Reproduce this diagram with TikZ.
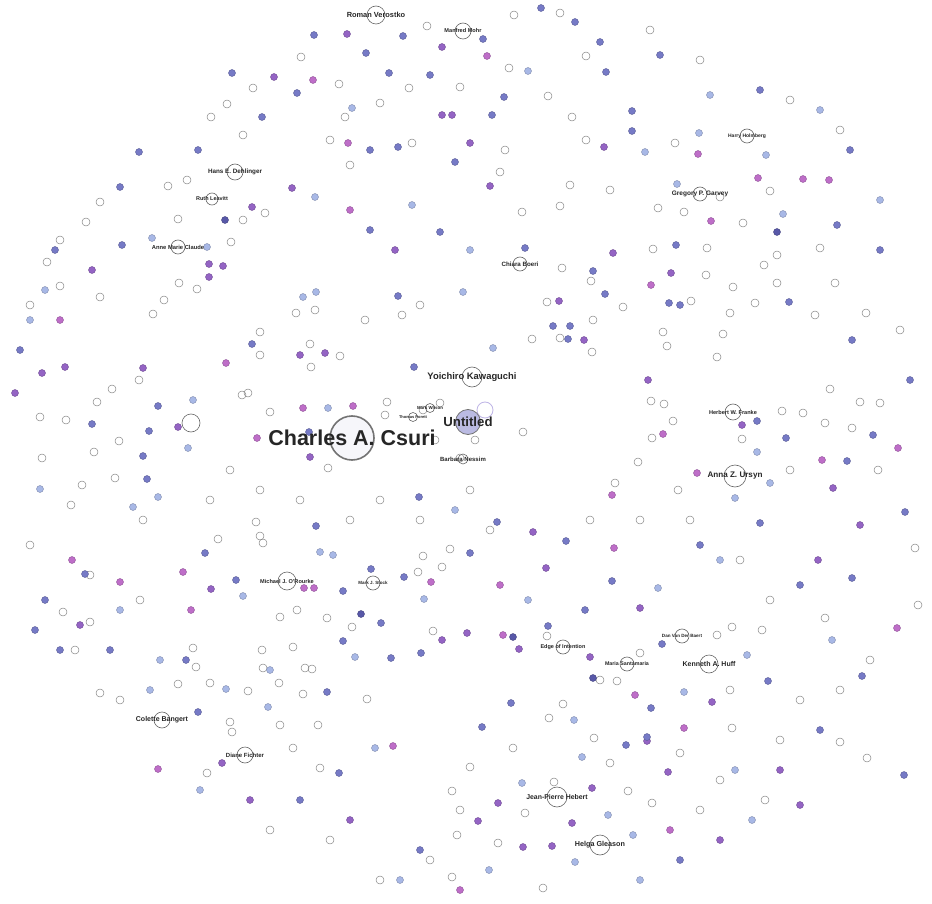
\documentclass[tikz,border=0pt]{standalone}
\usepackage{fontspec}
\setmainfont{Liberation Sans}
\definecolor{cB}{RGB}{118,122,198}
\definecolor{cD}{RGB}{88,88,168}
\definecolor{cP}{RGB}{148,100,196}
\definecolor{cM}{RGB}{190,110,200}
\definecolor{cL}{RGB}{168,184,230}
\definecolor{untfill}{RGB}{186,186,226}
\begin{document}
\begin{tikzpicture}[x=1pt,y=-1pt,
  dotn/.style={circle,inner sep=0pt,minimum size=7pt,line width=0.4pt},
  ring/.style={circle,draw=black!50,line width=0.45pt,inner sep=0pt,minimum size=8pt},
  hub/.style={circle,draw=black!60,line width=0.6pt,inner sep=0pt},
  lbl/.style={inner sep=0pt,text=black!85,font=\bfseries}]
\fill[white] (0,0) rectangle (932,904);
\useasboundingbox (0,0) rectangle (932,904);

% small open circles
\foreach \x/\y [count=\i] in {427/26,514/15,560/13,301/57,509/68,339/84,409/88,460/87,253/88,586/56,548/96,380/103,345/117,227/104,211/117,243/135,572/117,330/140,412/143,505/150,586/140,675/143,168/186,187/180,100/202,350/165,500/172,570/185,610/190,522/212,560/206,770/191,658/208,684/212,720/197,743/223,178/219,243/220,265/213,231/242,86/222,820/248,764/265,707/248,777/255,706/275,733/287,777/283,835/283,691/301,755/303,730/313,815/315,866/313,179/283,197/289,164/300,296/313,315/310,153/314,562/268,653/249,591/281,547/302,623/307,593/320,532/339,560/338,592/352,663/332,667/346,723/334,717/357,260/332,260/355,340/356,311/367,310/344,420/305,365/320,402/315,100/297,30/305,47/262,60/286,
139/380,112/389,97/402,40/417,66/420,119/441,94/452,42/458,115/478,82/485,71/505,143/520,248/393,270/412,387/402,385/415,423/410,440/403,523/432,435/440,475/440,460/458,328/468,242/395,
651/401,664/404,673/421,782/411,803/413,825/423,852/428,830/389,860/402,652/438,742/439,638/462,790/470,878/470,615/483,678/490,
218/539,260/536,263/543,450/549,423/556,442/567,418/572,297/610,280/617,327/618,352/627,433/631,262/650,293/647,193/648,196/667,263/668,305/668,256/522,210/683,178/684,248/691,312/669,279/683,303/694,367/699,230/722,232/732,293/748,280/725,318/725,320/768,207/773,
513/748,680/753,470/767,610/763,554/782,628/791,652/803,452/791,460/810,525/813,457/835,498/843,452/877,543/888,
547/636,732/627,762/630,717/635,640/653,730/690,600/680,617/681,563/704,549/718,594/738,732/728,
30/545,90/575,63/612,90/622,140/600,75/650,100/693,120/700,915/548,918/605,825/618,870/660,840/742,867/758,765/800,900/330,880/403,840/130,790/100,700/60,650/30,60/240,380/880,330/840,270/830,430/860,700/810,720/780,780/740,800/700,840/690,770/600,740/560,690/520,640/520,590/520,470/490,490/530,420/520,380/500,350/520,300/500,260/490,230/470,210/500}
  {\node[ring] (r\i) at (\x,\y) {};}

% coloured dots
\foreach \x/\y/\c [count=\i] in {541/8/cB,314/35/cB,347/34/cP,403/36/cB,366/53/cB,442/47/cP,483/39/cB,487/56/cM,528/71/cL,389/73/cB,430/75/cB,313/80/cM,504/97/cB,352/108/cL,442/115/cP,452/115/cP,492/115/cB,232/73/cB,274/77/cP,297/93/cB,262/117/cB,606/72/cB,632/111/cB,600/42/cB,139/152/cB,198/150/cB,120/187/cB,370/150/cB,398/147/cB,470/143/cP,348/143/cM,604/147/cP,632/131/cB,645/152/cL,698/154/cM,699/133/cL,766/155/cL,758/178/cM,803/179/cM,829/180/cM,677/184/cL,783/214/cL,711/221/cM,777/232/cD,837/225/cB,292/188/cP,315/197/cL,252/207/cP,225/220/cD,152/238/cL,207/247/cL,209/264/cP,223/266/cP,209/277/cP,303/297/cL,316/292/cL,525/248/cB,593/271/cB,613/253/cP,676/245/cB,671/273/cP,651/285/cM,605/294/cB,559/301/cP,669/303/cB,680/305/cB,789/302/cB,553/326/cB,570/326/cB,568/339/cB,584/340/cP,493/348/cL,252/344/cB,300/355/cP,325/353/cP,414/367/cB,
65/367/cP,42/373/cP,143/368/cP,226/363/cM,15/393/cP,158/406/cB,193/400/cL,92/424/cB,149/431/cB,178/427/cP,143/456/cB,188/448/cL,147/479/cB,40/489/cL,158/497/cL,133/507/cL,
303/408/cM,328/408/cL,353/406/cM,309/432/cB,257/438/cM,310/457/cP,
648/380/cP,663/434/cM,742/425/cP,757/421/cB,786/438/cB,757/452/cL,898/448/cM,822/460/cM,847/461/cB,697/473/cM,770/483/cL,833/488/cP,612/495/cM,735/498/cL,
316/526/cB,205/553/cB,320/552/cL,333/555/cL,183/572/cM,236/580/cB,211/589/cP,243/596/cL,304/588/cM,314/588/cM,343/591/cB,371/569/cB,404/577/cB,431/582/cM,424/599/cL,191/610/cM,361/614/cD,381/623/cB,343/641/cB,467/633/cP,442/640/cP,421/653/cB,391/658/cB,355/657/cL,186/660/cB,
270/670/cL,226/689/cL,198/712/cB,268/707/cL,327/692/cB,375/748/cL,393/746/cM,222/763/cP,158/769/cM,339/773/cB,
626/745/cB,647/741/cP,582/757/cL,668/772/cP,522/783/cL,592/788/cP,498/803/cP,478/821/cP,608/815/cL,572/823/cP,670/830/cM,633/835/cL,523/847/cP,552/846/cP,575/862/cL,489/870/cL,
503/635/cM,513/637/cD,519/649/cP,548/626/cB,662/644/cB,590/657/cP,593/678/cD,747/655/cL,768/681/cB,684/692/cL,712/702/cP,635/695/cM,651/708/cB,511/703/cB,574/720/cL,482/727/cB,684/728/cM,647/737/cB,
72/560/cM,85/574/cB,120/582/cM,45/600/cB,35/630/cB,120/610/cL,150/690/cL,160/660/cL,60/320/cM,92/270/cP,122/245/cB,45/290/cL,80/625/cP,60/650/cB,110/650/cB,
880/250/cB,852/340/cB,910/380/cB,873/435/cB,905/512/cB,852/578/cB,897/628/cM,832/640/cL,862/676/cB,820/730/cB,904/775/cB,800/805/cP,752/820/cL,818/560/cP,800/585/cB,760/523/cB,860/525/cP,720/560/cL,700/545/cB,780/770/cP,735/770/cL,
575/22/cB,660/55/cB,710/95/cL,760/90/cB,820/110/cL,850/150/cB,880/200/cL,55/250/cB,30/320/cL,20/350/cB,
300/800/cB,350/820/cP,420/850/cB,400/880/cL,460/890/cM,250/800/cP,200/790/cL,680/860/cB,720/840/cP,640/880/cL,
419/497/cB,455/510/cL,497/522/cB,533/532/cP,566/541/cB,614/548/cM,546/568/cP,612/581/cB,658/588/cL,470/553/cB,500/585/cM,528/600/cL,585/610/cB,640/608/cP,
455/162/cB,490/186/cP,412/205/cL,440/232/cB,395/250/cP,470/250/cL,370/230/cB,350/210/cM,398/296/cB,463/292/cL}
  {\node[dotn,fill=\c,draw=\c!75!black] (d\i) at (\x,\y) {};}

% named hubs
\node[hub,minimum size=18pt] (roman) at (376,15) {};
\node[hub,minimum size=16pt] (mohr) at (463,31) {};
\node[hub,minimum size=16pt] (dehl) at (235,172) {};
\node[hub,minimum size=12pt] (ruth) at (212,199) {};
\node[hub,minimum size=14pt] (anne) at (178,247) {};
\node[hub,minimum size=14pt] (harry) at (747,136) {};
\node[hub,minimum size=14pt] (garvey) at (700,194) {};
\node[hub,minimum size=14pt] (chiara) at (520,264) {};
\node[hub,minimum size=18pt] (migo) at (191,423) {};
\node[hub,minimum size=20pt] (yoichiro) at (472,377) {};
\node[circle,draw={rgb,255:red,190;green,180;blue,230},line width=0.8pt,minimum size=16pt,inner sep=0pt] (halo) at (485,410) {};
\node[circle,fill=untfill,draw=black!55,line width=0.8pt,minimum size=25pt,inner sep=0pt] (untitled) at (468,422) {};
\node[circle,fill={rgb,255:red,246;green,246;blue,250},draw=black!55,line width=1.6pt,minimum size=44pt,inner sep=0pt] (csuri) at (352,438) {};
\node[hub,minimum size=16pt] (franke) at (733,412) {};
\node[hub,minimum size=22pt] (ursyn) at (735,476) {};
\node[hub,minimum size=9pt] (porett) at (413,417) {};
\node[hub,minimum size=9pt] (wilson) at (430,408) {};
\node[hub,minimum size=10pt] (nessim) at (463,459) {};
\node[hub,minimum size=18pt] (orourke) at (287,581) {};
\node[hub,minimum size=14pt] (stock) at (373,583) {};
\node[hub,minimum size=14pt] (edge) at (563,647) {};
\node[hub,minimum size=14pt] (dan) at (682,636) {};
\node[hub,minimum size=14pt] (maria) at (627,664) {};
\node[hub,minimum size=18pt] (huff) at (709,664) {};
\node[hub,minimum size=16pt] (bangert) at (162,720) {};
\node[hub,minimum size=16pt] (fichter) at (245,755) {};
\node[hub,minimum size=20pt] (hebert) at (557,797) {};
\node[hub,minimum size=20pt] (gleason) at (600,845) {};

% labels
\node[lbl,font=\bfseries\fontsize{7.4}{8}\selectfont] (romanL) at (roman) {Roman Verostko};
\node[lbl,font=\bfseries\fontsize{5.6}{6}\selectfont] (mohrL) at (mohr) {Manfred Mohr};
\node[lbl,font=\bfseries\fontsize{6.3}{7}\selectfont] (dehlL) at (dehl) {Hans E. Dehlinger};
\node[lbl,font=\bfseries\fontsize{5.5}{6}\selectfont] (ruthL) at (ruth) {Ruth Leavitt};
\node[lbl,font=\bfseries\fontsize{5.8}{6}\selectfont] (anneL) at (anne) {Anne Marie Claude};
\node[lbl,font=\bfseries\fontsize{5}{6}\selectfont] (harryL) at (harry) {Harry Holmberg};
\node[lbl,font=\bfseries\fontsize{6.5}{7}\selectfont] (garveyL) at (garvey) {Gregory P. Garvey};
\node[lbl,font=\bfseries\fontsize{6.2}{7}\selectfont] (chiaraL) at (chiara) {Chiara Boeri};
\node[lbl,font=\bfseries\fontsize{9.4}{10}\selectfont] (yoichiroL) at (yoichiro) {Yoichiro Kawaguchi};
\node[lbl,font=\bfseries\fontsize{13.2}{14}\selectfont] (untitledL) at (untitled) {Untitled};
\node[lbl,font=\bfseries\fontsize{21.5}{22}\selectfont] (csuriL) at (csuri) {Charles A. Csuri};
\node[lbl,font=\bfseries\fontsize{5.6}{6}\selectfont] (frankeL) at (franke) {Herbert W. Franke};
\node[lbl,font=\bfseries\fontsize{8.1}{9}\selectfont] (ursynL) at (ursyn) {Anna Z. Ursyn};
\node[lbl,font=\bfseries\fontsize{4}{5}\selectfont] (porettL) at (porett) {Thomas Porett};
\node[lbl,font=\bfseries\fontsize{4.4}{5}\selectfont] (wilsonL) at (wilson) {Mark Wilson};
\node[lbl,font=\bfseries\fontsize{6}{7}\selectfont] (nessimL) at (nessim) {Barbara Nessim};
\node[lbl,font=\bfseries\fontsize{5.6}{6}\selectfont] (orourkeL) at (orourke) {Michael J. O'Rourke};
\node[lbl,font=\bfseries\fontsize{4.5}{5}\selectfont] (stockL) at (stock) {Mark J. Stock};
\node[lbl,font=\bfseries\fontsize{5.5}{6}\selectfont] (edgeL) at (edge) {Edge of Intention};
\node[lbl,font=\bfseries\fontsize{4.6}{5}\selectfont] (danL) at (dan) {Dan Van Der Baert};
\node[lbl,font=\bfseries\fontsize{5.3}{6}\selectfont] (mariaL) at (maria) {Maria Santamaria};
\node[lbl,font=\bfseries\fontsize{7}{8}\selectfont] (huffL) at (huff) {Kenneth A. Huff};
\node[lbl,font=\bfseries\fontsize{7}{8}\selectfont] (bangertL) at (bangert) {Colette Bangert};
\node[lbl,font=\bfseries\fontsize{6}{7}\selectfont] (fichterL) at (fichter) {Diane Fichter};
\node[lbl,font=\bfseries\fontsize{6.9}{8}\selectfont] (hebertL) at (hebert) {Jean-Pierre Hebert};
\node[lbl,font=\bfseries\fontsize{7.2}{8}\selectfont] (gleasonL) at (gleason) {Helga Gleason};
\end{tikzpicture}
\end{document}
